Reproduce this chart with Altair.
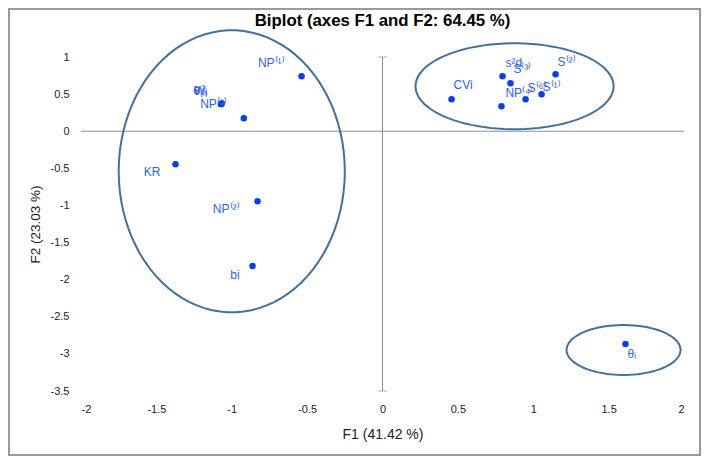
import altair as alt
import pandas as pd

# ---- data ----
labels = ["NP⁽¹⁾", "NP⁽³⁾", "Wᵢ", "σ²ᵢ", "θ₍ᵢ₎", "KR", "NP⁽²⁾", "bi",
          "CVi", "s²d", "S⁽³⁾", "S⁽²⁾", "S⁽¹⁾", "S⁽⁶⁾", "NP⁽⁴⁾", "θᵢ"]
f1 = [-0.537, -0.92, -1.07, -1.066, -1.072, -1.373, -0.829, -0.862,
      0.458, 0.796, 0.849, 1.148, 1.055, 0.949, 0.789, 1.612]
f2 = [0.74, 0.175, 0.37, 0.375, 0.365, -0.444, -0.942, -1.817,
      0.431, 0.740, 0.646, 0.767, 0.498, 0.431, 0.336, -2.867]

# ellipses drawn around the groups (centre and radii, in axis units)
ell_cx = [-1.0, 0.876, 1.599]
ell_cy = [-0.54, 0.606, -2.947]
ell_rx = [0.75, 0.657, 0.378]
ell_ry = [1.90, 0.579, 0.336]

x_ticks = [-2, -1.5, -1, -0.5, 0, 0.5, 1, 1.5, 2]
y_ticks = [-3.5, -3, -2.5, -2, -1.5, -1, -0.5, 0, 0.5, 1]

title_text = "Biplot (axes F1 and F2: 64.45 %)"
x_title = "F1 (41.42 %)"
y_title = "F2 (23.03 %)"

# ---- styling ----
PT = "#0a3cf0"
LBL = "#2f5ff0"
ELL = "#41719c"
AX = "#8c8c8c"
FONT = "Liberation Sans"

xs = alt.Scale(domain=[x_ticks[0], x_ticks[-1]], nice=False, zero=False)
ys = alt.Scale(domain=[y_ticks[0], y_ticks[-1]], nice=False, zero=False)
x_axis = alt.Axis(title=x_title, values=x_ticks, labelExpr="'' + datum.value")
y_axis = alt.Axis(title=y_title, values=y_ticks, labelExpr="'' + datum.value")


def X(field):
    return alt.X(field, type="quantitative", scale=xs, axis=x_axis, title=x_title)


def Y(field):
    return alt.Y(field, type="quantitative", scale=ys, axis=y_axis, title=y_title)


df = pd.DataFrame({"label": labels, "F1": f1, "F2": f2})
base = alt.Chart(df)

# outer frame of the chart (decoration)
frame = base.mark_rect(fill="white", fillOpacity=0, stroke="#9a9a9a", strokeWidth=1.5).encode(
    x=alt.value(-72), x2=alt.value(619), y=alt.value(-48), y2=alt.value(398))

# axis cross lines
cross_h = pd.DataFrame({"x1": [x_ticks[0]], "x2": [x_ticks[-1]], "y": [0]})
cross_v = pd.DataFrame({"x": [0], "y1": [y_ticks[0]], "y2": [y_ticks[-1]]})
hline = alt.Chart(cross_h).mark_rule(color=AX, strokeWidth=1).encode(
    x=X("x1"), x2="x2:Q", y=Y("y"))
vline = alt.Chart(cross_v).mark_rule(color=AX, strokeWidth=1).encode(
    x=X("x"), y=Y("y1"), y2="y2:Q")
end_ticks = alt.Chart(pd.DataFrame({"x": [0, 0], "y": [y_ticks[0], y_ticks[-1]]})).mark_tick(
    orient="horizontal", size=9, thickness=1, color=AX).encode(x=X("x"), y=Y("y"))

points = base.mark_circle(size=42, color=PT, opacity=1).encode(x=X("F1"), y=Y("F2"))

# label placement (layout only)
place = {
    "NP⁽¹⁾": ("right", -17, -13), "NP⁽³⁾": ("right", -17, -14),
    "Wᵢ": ("right", -14, -13), "σ²ᵢ": ("right", -15, -13), "θ₍ᵢ₎": ("right", -13, -13),
    "KR": ("right", -15, 8), "NP⁽²⁾": ("right", -18, 8), "bi": ("right", -13, 9),
    "CVi": ("left", 2, -14), "s²d": ("left", 3, -13), "S⁽³⁾": ("left", 3, -14),
    "S⁽²⁾": ("left", 2, -12), "S⁽¹⁾": ("left", 1, -7), "S⁽⁶⁾": ("left", 2, -11),
    "NP⁽⁴⁾": ("left", 4, -13), "θᵢ": ("left", 2, 10),
}
texts = []
for lab in labels:
    al, dx, dy = place[lab]
    texts.append(
        base.transform_filter(alt.datum.label == lab).mark_text(
            align=al, baseline="middle", dx=dx, dy=dy, font=FONT, fontSize=12, color=LBL
        ).encode(x=X("F1"), y=Y("F2"), text="label:N")
    )

angles = list(range(0, 364, 4))
ell_rows = []
for i, (cx, cy, rx, ry) in enumerate(zip(ell_cx, ell_cy, ell_rx, ell_ry)):
    for t in angles:
        ell_rows.append({"g": i, "t": t, "cx": cx, "cy": cy, "rx": rx, "ry": ry})
ell_df = pd.DataFrame(ell_rows)
ellipses = alt.Chart(ell_df).transform_calculate(
    ex="datum.cx + datum.rx * cos(datum.t * PI / 180)",
    ey="datum.cy + datum.ry * sin(datum.t * PI / 180)",
).mark_line(color=ELL, strokeWidth=2).encode(
    x=X("ex"), y=Y("ey"), detail="g:N", order="t:Q")

chart = alt.layer(frame, hline, vline, end_ticks, points, *texts, ellipses).properties(
    width=603, height=334,
    autosize=alt.AutoSizeParams(type="none"),
    padding={"left": 73, "top": 49, "right": 17, "bottom": 65},
    title=alt.TitleParams(title_text, font=FONT, fontSize=16.8, fontWeight="bold",
                          color="#000000", anchor="middle", offset=-22),
).configure_view(stroke=None).configure_axis(
    domain=False, ticks=False, grid=False, labelFont=FONT, labelFontSize=11,
    labelColor="#222222", titleFont=FONT, titleFontWeight="normal",
    titleColor="#222222", labelPadding=12,
).configure_axisY(titlePadding=8, titleFontSize=13.5).configure_axisX(
    titlePadding=13, titleFontSize=14)

chart.save("out.html", embed_options={"renderer": "svg", "actions": False})
